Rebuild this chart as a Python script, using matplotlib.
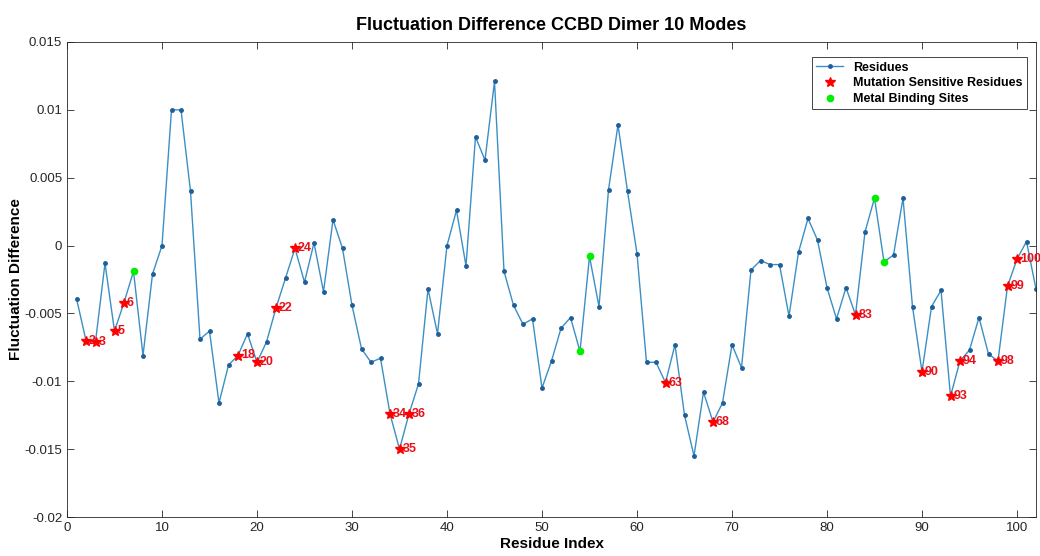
import matplotlib.pyplot as plt
import numpy as np

plt.rcParams['font.family'] = ['Liberation Sans', 'DejaVu Sans']

# Fluctuation difference per residue
residues = np.arange(1, 103)
fluct = [
    -0.0039, -0.0070, -0.0071, -0.0013, -0.0063, -0.0042, -0.0019, -0.0081, -0.0021, 0.0000,
    0.0100, 0.0100, 0.0040, -0.0069, -0.0063, -0.0116, -0.0088, -0.0081, -0.0065, -0.0086,
    -0.0071, -0.0046, -0.0024, -0.0002, -0.0027, 0.0002, -0.0034, 0.0019, -0.0002, -0.0044,
    -0.0076, -0.0086, -0.0083, -0.0124, -0.0150, -0.0124, -0.0102, -0.0032, -0.0065, 0.0000,
    0.0026, -0.0015, 0.0080, 0.0063, 0.0121, -0.0019, -0.0044, -0.0058, -0.0054, -0.0105,
    -0.0085, -0.0061, -0.0053, -0.0078, -0.0008, -0.0045, 0.0041, 0.0089, 0.0040, -0.0006,
    -0.0086, -0.0086, -0.0101, -0.0073, -0.0125, -0.0155, -0.0108, -0.0130, -0.0116, -0.0073,
    -0.0090, -0.0018, -0.0011, -0.0014, -0.0014, -0.0052, -0.0005, 0.0020, 0.0004, -0.0031,
    -0.0054, -0.0031, -0.0051, 0.0010, 0.0035, -0.0012, -0.0007, 0.0035, -0.0045, -0.0093,
    -0.0045, -0.0033, -0.0111, -0.0085, -0.0077, -0.0053, -0.0080, -0.0085, -0.0030, -0.0010,
    0.0003, -0.0032,
]
fluct = np.array(fluct)

mutation_sites = [2, 3, 5, 6, 18, 20, 22, 24, 34, 35, 36, 63, 68, 83, 90, 93, 94, 98, 99, 100]
metal_sites = [7, 54, 55, 85, 86]

fig = plt.figure(figsize=(10.4, 5.56), dpi=100)
ax = fig.add_axes([67 / 1040, 1 - 517 / 556, (1036 - 67) / 1040, (517 - 42) / 556])

ax.plot(residues, fluct, '-', color='#3b8fc4', lw=1.0, marker='o', ms=2.5,
        mfc='#1f5f99', mec='#1f5f99', label='Residues')

mut_idx = np.array(mutation_sites) - 1
ax.plot(residues[mut_idx], fluct[mut_idx], '*', color='red', ms=7, ls='none',
        label='Mutation Sensitive Residues')
for r in mutation_sites:
    ax.annotate(str(r), (r, fluct[r - 1]), xytext=(2, 0), textcoords='offset points',
                color='#e8101a', fontsize=9, fontweight='bold', va='center', ha='left')

met_idx = np.array(metal_sites) - 1
ax.plot(residues[met_idx], fluct[met_idx], 'o', color='#00ee00', ms=4.5, ls='none',
        label='Metal Binding Sites')

ax.set_xlim(0, 102)
ax.set_ylim(-0.02, 0.015)
ax.set_xticks(np.arange(0, 101, 10))
ax.set_yticks(np.arange(-0.02, 0.0151, 0.005))
ax.set_yticklabels(['-0.02', '-0.015', '-0.01', '-0.005', '0', '0.005', '0.01', '0.015'])
ax.tick_params(direction='in', top=True, right=True, length=5, labelsize=9.5,
               colors='#262626', width=0.6)
for s in ax.spines.values():
    s.set_color('#262626')
    s.set_linewidth(0.6)

ax.set_title('Fluctuation Difference CCBD Dimer 10 Modes', fontsize=13, fontweight='bold', pad=9)
ax.set_xlabel('Residue Index', fontsize=11, fontweight='bold', labelpad=2)
ax.set_ylabel('Fluctuation Difference', fontsize=11, fontweight='bold', labelpad=1)

leg = ax.legend(loc='upper right', bbox_to_anchor=(0.991, 0.968), borderaxespad=0,
                prop={'weight': 'bold', 'size': 9}, fancybox=False, edgecolor='#262626',
                framealpha=1, handlelength=2.2, borderpad=0.35, labelspacing=0.3)
leg.get_frame().set_linewidth(0.6)

plt.savefig('out.png', dpi=100)
